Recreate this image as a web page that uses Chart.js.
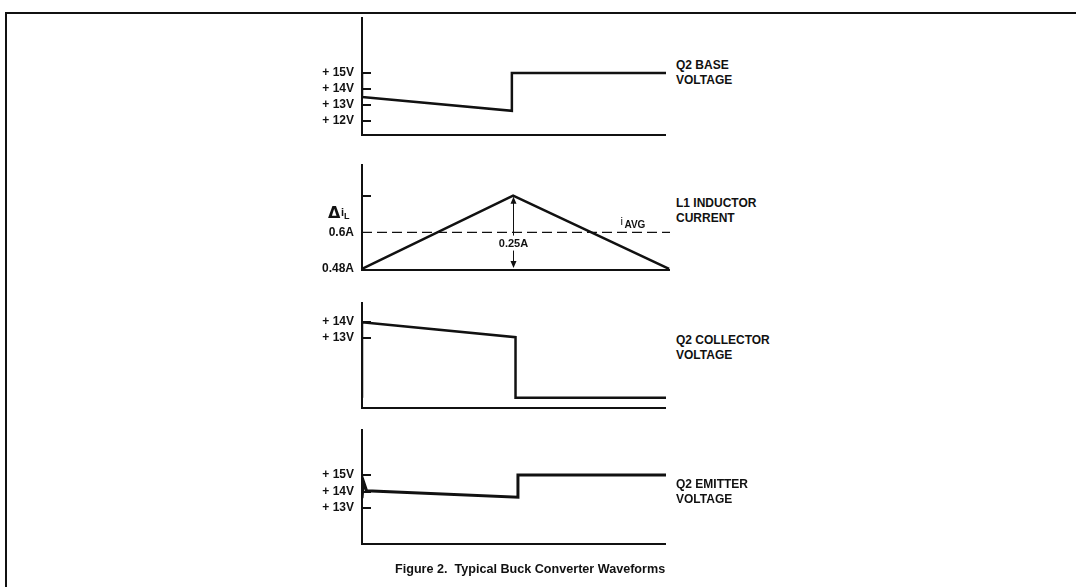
<!DOCTYPE html>
<html>
<head>
<meta charset="utf-8">
<script src="https://cdn.jsdelivr.net/npm/chart.js@4.4.1/dist/chart.umd.min.js"></script>
<style>
  html, body { margin: 0; background: #fff; width: 1076px; height: 587px; overflow: hidden; }
  body { position: relative; font-family: "Liberation Sans", Arial, sans-serif; color: #111; }
  .rule-top { position: absolute; left: 5px; top: 12px; width: 1071px; height: 2px; background: #111; }
  .rule-left { position: absolute; left: 5px; top: 12px; width: 2px; height: 575px; background: #111; }
  canvas { position: absolute; }
  .lbl { position: absolute; left: 676px; font-weight: bold; font-size: 12px; line-height: 15px; }
  .cap { position: absolute; left: 395px; top: 562px; font-weight: bold; font-size: 12.6px; white-space: pre; }
</style>
</head>
<body>
<div class="rule-top"></div>
<div class="rule-left"></div>
<canvas id="base" width="366" height="147" style="left:300px;top:3px"></canvas>
<canvas id="inductor" width="370" height="135" style="left:300px;top:150px"></canvas>
<canvas id="collector" width="366" height="135" style="left:300px;top:288px"></canvas>
<canvas id="emitter" width="366" height="144" style="left:300px;top:415px"></canvas>

<div class="lbl" style="top:58px">Q2 BASE<br>VOLTAGE</div>
<div class="lbl" style="top:196px">L1 INDUCTOR<br>CURRENT</div>
<div class="lbl" style="top:333px">Q2 COLLECTOR<br>VOLTAGE</div>
<div class="lbl" style="top:477px">Q2 EMITTER<br>VOLTAGE</div>
<div class="cap">Figure 2.  Typical Buck Converter Waveforms</div>

<script>
// Q2 base voltage
const baseT = [0, 0, 4.93, 4.93, 10];
const baseV = [15, 13.5, 12.63, 15, 15];
const baseTicks = [12, 13, 14, 15];
const baseLabels = ["+ 12V", "+ 13V", "+ 14V", "+ 15V"];

// L1 inductor current
const inductorT = [0, 4.97, 10.1];
const inductorI = [0.48, 0.72, 0.48];
const avgT = [0, 10.13];
const avgI = [0.6, 0.6];
const inductorTicks = [0.48, 0.6, 0.72];
const inductorLabels = ["0.48A", "0.6A", ""];

// Q2 collector voltage
const collectorT = [0, 0, 5.05, 5.05, 10];
const collectorV = [9.25, 14, 13.06, 9.25, 9.25];
const collectorTicks = [13, 14];
const collectorLabels = ["+ 13V", "+ 14V"];

// Q2 emitter voltage
const emitterT = [0, 0.05, 0.15, 5.13, 5.13, 10];
const emitterV = [13.6, 14.6, 14.05, 13.65, 15, 15];
const emitterTicks = [13, 14, 15];
const emitterLabels = ["+ 13V", "+ 14V", "+ 15V"];

const ink = '#111';
const pts = (xs, ys) => xs.map((x, i) => ({ x: x, y: ys[i] }));

// short tick marks drawn inward from the y axis
const innerTicks = {
  id: 'innerTicks',
  afterDatasetsDraw(chart, args, opts) {
    const { ctx, chartArea, scales: { y } } = chart;
    ctx.save();
    ctx.strokeStyle = ink;
    ctx.lineWidth = 2;
    (opts.marks || []).forEach(v => {
      const py = Math.round(y.getPixelForValue(v));
      ctx.beginPath();
      ctx.moveTo(chartArea.left, py);
      ctx.lineTo(chartArea.left + 9, py);
      ctx.stroke();
    });
    ctx.restore();
  }
};

// ripple arrow and labels on the inductor panel
const rippleNotes = {
  id: 'rippleNotes',
  afterDatasetsDraw(chart) {
    if (chart.canvas.id !== 'inductor') return;
    const { ctx, scales: { x, y } } = chart;
    const px = Math.round(x.getPixelForValue(inductorT[1])) + 0.5;
    const top = y.getPixelForValue(inductorI[1]);
    const bot = y.getPixelForValue(inductorI[0]);
    const mid = y.getPixelForValue(0.563);
    ctx.save();
    ctx.strokeStyle = ink;
    ctx.fillStyle = ink;
    ctx.lineWidth = 1;
    ctx.beginPath();
    ctx.moveTo(px, top + 2); ctx.lineTo(px, mid - 8);
    ctx.moveTo(px, mid + 7); ctx.lineTo(px, bot - 2);
    ctx.stroke();
    ctx.beginPath();
    ctx.moveTo(px, top + 1); ctx.lineTo(px - 3, top + 8); ctx.lineTo(px + 3, top + 8); ctx.closePath();
    ctx.moveTo(px, bot - 1); ctx.lineTo(px - 3, bot - 8); ctx.lineTo(px + 3, bot - 8); ctx.closePath();
    ctx.fill();
    ctx.font = 'bold 11px "Liberation Sans", Arial, sans-serif';
    ctx.textAlign = 'center';
    ctx.textBaseline = 'middle';
    ctx.fillText('0.25A', px, mid);
    // i AVG
    const ax = x.getPixelForValue(8.5);
    const ay = y.getPixelForValue(0.6) - 6;
    ctx.textAlign = 'left';
    ctx.textBaseline = 'alphabetic';
    ctx.font = '11px "Liberation Sans", Arial, sans-serif';
    ctx.fillText('i', ax, ay - 1);
    ctx.font = 'bold 10px "Liberation Sans", Arial, sans-serif';
    ctx.fillText('AVG', ax + 4, ay + 2);
    // delta i L, left of the axis
    const dy = y.getPixelForValue(0.665);
    ctx.font = 'bold 16px "DejaVu Sans", sans-serif';
    ctx.fillText('\u0394', 28, dy + 6);
    ctx.font = 'bold 11px "Liberation Sans", Arial, sans-serif';
    ctx.fillText('i', 41, dy + 4);
    ctx.font = 'bold 9px "Liberation Sans", Arial, sans-serif';
    ctx.fillText('L', 44, dy + 7);
    ctx.restore();
  }
};

function panel(id, datasets, xMax, yMin, yMax, ticks, labels, marks) {
  return new Chart(id, {
    type: 'line',
    data: { datasets: datasets },
    options: {
      responsive: false,
      animation: false,
      layout: { padding: { top: 15, bottom: 15, left: 0, right: 0 } },
      elements: { point: { radius: 0 }, line: { tension: 0 } },
      plugins: {
        legend: { display: false },
        tooltip: { enabled: false },
        innerTicks: { marks: marks }
      },
      scales: {
        x: {
          type: 'linear', min: 0, max: xMax,
          ticks: { display: false },
          grid: { display: false, drawTicks: false },
          border: { display: true, width: 2, color: ink },
          afterFit: s => { s.height = 0; }
        },
        y: {
          type: 'linear', min: yMin, max: yMax,
          afterBuildTicks: s => { s.ticks = ticks.map(v => ({ value: v })); },
          ticks: {
            autoSkip: false,
            padding: 8,
            color: ink,
            font: { family: '"Liberation Sans", Arial, sans-serif', size: 12, weight: 'bold' },
            callback: (v, i) => labels[i]
          },
          grid: { display: false, drawTicks: false },
          border: { display: true, width: 2, color: ink },
          afterFit: s => { s.width = 62; }
        }
      }
    },
    plugins: [innerTicks, rippleNotes]
  });
}

panel('base', [{
  data: pts(baseT, baseV), borderColor: ink, borderWidth: 2.5, fill: false
}], 10, 11.125, 18.44, baseTicks, baseLabels, [12, 13, 14, 15]);

panel('inductor', [{
  data: pts(inductorT, inductorI), borderColor: ink, borderWidth: 2.5, fill: false
}, {
  data: pts(avgT, avgI), borderColor: ink, borderWidth: 1.2, borderDash: [10, 5], fill: false
}], 10.13, 0.477, 0.82, inductorTicks, inductorLabels, [0.72]);

panel('collector', [{
  data: pts(collectorT, collectorV), borderColor: ink, borderWidth: 2.5, fill: false
}], 10, 8.625, 15.19, collectorTicks, collectorLabels, [13, 14]);

panel('emitter', [{
  data: pts(emitterT, emitterV), borderColor: ink, borderWidth: 3, fill: false
}], 10, 10.82, 17.73, emitterTicks, emitterLabels, [13, 14, 15]);
</script>
</body>
</html>
